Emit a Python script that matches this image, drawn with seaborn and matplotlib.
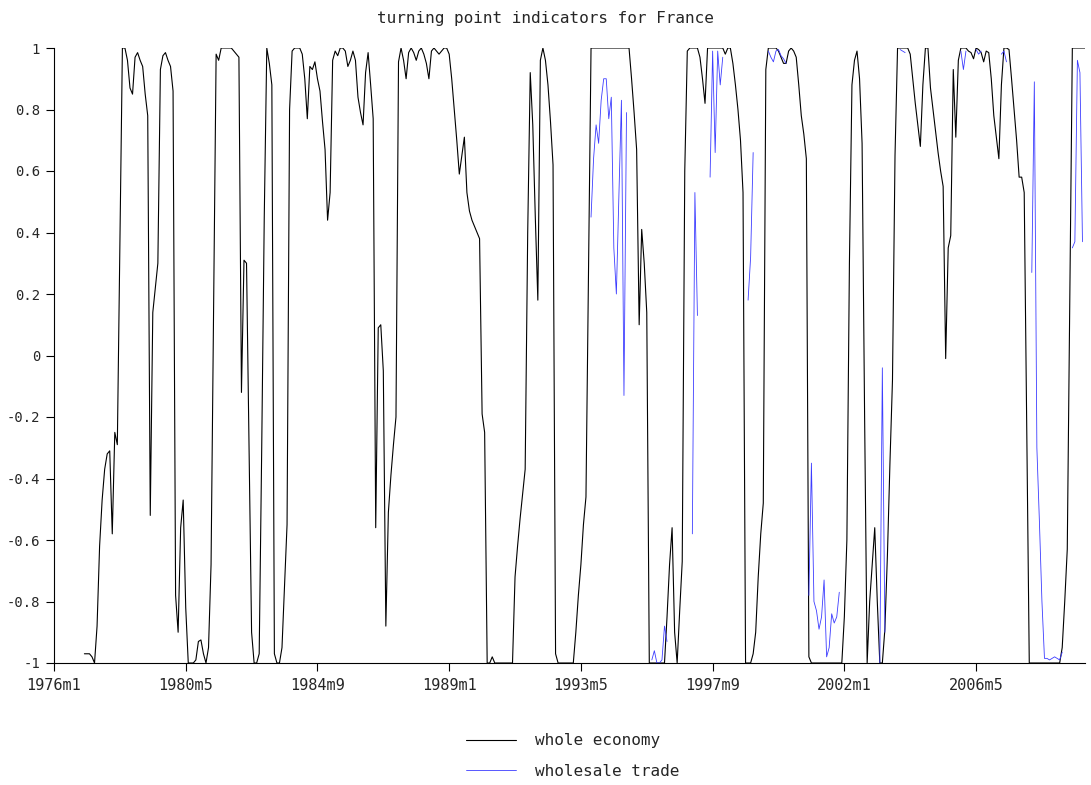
import numpy as np
import pandas as pd
import matplotlib
matplotlib.use("Agg")
import matplotlib.pyplot as plt
import seaborn as sns

# ---- chart text -------------------------------------------------------------
title = "turning point indicators for France"
series_names = ["whole economy", "wholesale trade"]
series_colors = ["#000000", "#3c3cff"]

# month index 0 = 1976m1, last month 2009m12
n_months = 408
xtick_pos = [0, 52, 104, 156, 208, 260, 312, 364]
xtick_labels = ["1976m1", "1980m5", "1984m9", "1989m1",
                "1993m5", "1997m9", "2002m1", "2006m5"]
ytick_vals = [-1, -0.8, -0.6, -0.4, -0.2, 0, 0.2, 0.4, 0.6, 0.8, 1]
ytick_labels = ["-1", "-0.8", "-0.6", "-0.4", "-0.2", "0",
                "0.2", "0.4", "0.6", "0.8", "1"]

# ---- whole economy: monthly, 1977m1 .. 2009m12 --------------------------------
whole_start = 12
whole_economy = [
    -0.97, -0.97, -0.97, -0.98, -1.0, -0.88, -0.62, -0.47, -0.37, -0.32, -0.31, -0.58,   # 1977
    -0.25, -0.29, 0.35, 1.0, 1.0, 0.96, 0.87, 0.85, 0.97, 0.985, 0.96, 0.94,            # 1978
    0.85, 0.78, -0.52, 0.14, 0.22, 0.30, 0.93, 0.975, 0.985, 0.96, 0.94, 0.86,          # 1979
    -0.78, -0.90, -0.56, -0.47, -0.82, -1.0, -1.0, -1.0, -0.99, -0.93, -0.925, -0.97,    # 1980
    -1.0, -0.95, -0.68, 0.15, 0.98, 0.96, 1.0, 1.0, 1.0, 1.0, 1.0, 0.99,                 # 1981
    0.98, 0.97, -0.12, 0.31, 0.30, -0.30, -0.90, -1.0, -1.0, -0.97, -0.30, 0.45,         # 1982
    1.0, 0.95, 0.88, -0.97, -1.0, -1.0, -0.95, -0.75, -0.55, 0.80, 0.99, 1.0,            # 1983
    1.0, 1.0, 0.98, 0.90, 0.77, 0.94, 0.93, 0.955, 0.90, 0.86, 0.76, 0.67,              # 1984
    0.44, 0.53, 0.96, 0.99, 0.975, 1.0, 1.0, 0.99, 0.94, 0.96, 0.99, 0.96,              # 1985
    0.84, 0.79, 0.75, 0.92, 0.985, 0.88, 0.77, -0.56, 0.09, 0.10, -0.05, -0.88,         # 1986
    -0.51, -0.39, -0.29, -0.20, 0.955, 1.0, 0.96, 0.90, 0.985, 1.0, 0.985, 0.96,        # 1987
    0.99, 1.0, 0.98, 0.95, 0.90, 0.99, 1.0, 0.99, 0.98, 0.99, 1.0, 1.0,                 # 1988
    0.98, 0.90, 0.80, 0.70, 0.59, 0.65, 0.71, 0.53, 0.47, 0.44, 0.42, 0.40,             # 1989
    0.38, -0.19, -0.25, -1.0, -1.0, -0.98, -1.0, -1.0, -1.0, -1.0, -1.0, -1.0,          # 1990
    -1.0, -1.0, -0.72, -0.62, -0.53, -0.45, -0.37, 0.40, 0.92, 0.75, 0.45, 0.18,        # 1991
    0.96, 1.0, 0.96, 0.88, 0.76, 0.62, -0.97, -1.0, -1.0, -1.0, -1.0, -1.0,             # 1992
    -1.0, -1.0, -0.90, -0.78, -0.68, -0.55, -0.46, 0.27, 1.0, 1.0, 1.0, 1.0,            # 1993
    1.0, 1.0, 1.0, 1.0, 1.0, 1.0, 1.0, 1.0, 1.0, 1.0, 1.0, 1.0,                         # 1994
    0.90, 0.79, 0.67, 0.10, 0.41, 0.30, 0.14, -1.0, -1.0, -1.0, -1.0, -1.0,             # 1995
    -1.0, -1.0, -0.85, -0.68, -0.56, -0.90, -1.0, -0.83, -0.67, 0.60, 0.99, 1.0,        # 1996
    1.0, 1.0, 1.0, 0.97, 0.90, 0.82, 1.0, 1.0, 1.0, 1.0, 1.0, 1.0,                      # 1997
    1.0, 0.98, 1.0, 1.0, 0.95, 0.88, 0.80, 0.70, 0.53, -1.0, -1.0, -1.0,                # 1998
    -0.97, -0.90, -0.72, -0.58, -0.48, 0.93, 1.0, 1.0, 1.0, 1.0, 0.99, 0.97,            # 1999
    0.95, 0.95, 0.99, 1.0, 0.99, 0.97, 0.88, 0.78, 0.72, 0.64, -0.98, -1.0,             # 2000
    -1.0, -1.0, -1.0, -1.0, -1.0, -1.0, -1.0, -1.0, -1.0, -1.0, -1.0, -1.0,             # 2001
    -0.85, -0.60, 0.30, 0.88, 0.96, 0.99, 0.90, 0.69, -0.20, -1.0, -0.80, -0.68,        # 2002
    -0.56, -0.80, -1.0, -1.0, -0.89, -0.65, -0.35, -0.08, 0.65, 1.0, 1.0, 1.0,          # 2003
    1.0, 1.0, 0.98, 0.90, 0.82, 0.75, 0.68, 0.88, 1.0, 1.0, 0.87, 0.80,                 # 2004
    0.73, 0.66, 0.60, 0.55, -0.01, 0.35, 0.39, 0.93, 0.71, 0.96, 1.0, 1.0,              # 2005
    1.0, 0.99, 0.985, 0.965, 1.0, 0.995, 0.985, 0.955, 0.99, 0.985, 0.90, 0.78,         # 2006
    0.71, 0.64, 0.88, 1.0, 1.0, 0.995, 0.90, 0.80, 0.70, 0.58, 0.58, 0.53,              # 2007
    -0.25, -1.0, -1.0, -1.0, -1.0, -1.0, -1.0, -1.0, -1.0, -1.0, -1.0, -1.0,            # 2008
    -1.0, -1.0, -0.95, -0.80, -0.63, 0.20, 1.0, 1.0, 1.0, 1.0, 1.0, 1.0,                # 2009
]

# ---- wholesale trade: monthly, 1993m9 .. 2009m12 (None = not available) ---------
N = None
wholesale_start = 212
wholesale_trade = [
    0.45, 0.64, 0.75, 0.69,                                                           # 1993 m9-m12
    0.83, 0.90, 0.90, 0.77, 0.84, 0.35, 0.20, 0.52, 0.83, -0.13, 0.79, N,             # 1994
    N, N, N, N, N, N, N, N, -0.99, -0.96, -1.0, -1.0,                                 # 1995
    -0.99, -0.88, -0.93, N, N, N, N, N, N, N, N, N,                                   # 1996
    -0.58, 0.53, 0.13, N, N, N, N, 0.58, 0.99, 0.66, 0.99, 0.88,                      # 1997
    0.97, N, N, N, N, N, N, N, N, N, 0.18, 0.32,                                      # 1998
    0.66, N, N, N, N, N, 0.99, 0.97, 0.955, 0.99, 0.995, 0.975,                       # 1999
    0.965, 0.95, N, N, N, N, N, N, N, N, -0.78, -0.35,                                # 2000
    -0.80, -0.83, -0.89, -0.85, -0.73, -0.98, -0.95, -0.84, -0.87, -0.85, -0.77, N,   # 2001
    N, N, N, N, N, N, N, N, N, N, N, N,                                               # 2002
    N, N, -1.0, -0.04, -0.90, N, N, N, N, N, 0.995, 0.99,                             # 2003
    0.985, N, N, N, N, N, N, N, N, N, N, N,                                           # 2004
    N, N, N, N, N, N, N, N, N, N, 0.99, 0.93,                                         # 2005
    0.99, N, N, N, 0.995, 0.98, 0.99, N, N, N, N, N,                                  # 2006
    N, N, 0.98, 0.99, 0.955, N, N, N, N, N, N, N,                                     # 2007
    N, N, 0.27, 0.89, -0.30, -0.54, -0.80, -0.985, -0.985, -0.99, -0.985, -0.98,      # 2008
    -0.985, -0.99, -0.965, N, N, N, 0.35, 0.37, 0.96, 0.92, 0.37, N,                  # 2009
]


def to_frame(name, start, values):
    """Long-format frame; a run of missing months starts a new line segment."""
    y = np.array(values, dtype=float)
    month = np.arange(start, start + len(y))
    segment = np.cumsum(np.isnan(y))
    keep = ~np.isnan(y)
    return pd.DataFrame({"month": month[keep], "value": y[keep],
                         "series": name, "segment": segment[keep]})


df = pd.concat([
    to_frame(series_names[0], whole_start, whole_economy),
    to_frame(series_names[1], wholesale_start, wholesale_trade),
], ignore_index=True)

# ---- figure -------------------------------------------------------------------
sns.set_style("white")
plt.rcParams["font.family"] = ["DejaVu Sans Mono", "DejaVu Sans"]

fig = plt.figure(figsize=(10.91, 7.85), dpi=100)
ax = fig.add_axes([54 / 1091, 1 - 663 / 785, (1085 - 54) / 1091, (663 - 48) / 785])

sns.lineplot(
    data=df, x="month", y="value",
    hue="series", hue_order=series_names,
    palette=dict(zip(series_names, series_colors)),
    size="series", sizes={series_names[0]: 0.8, series_names[1]: 0.6},
    units="segment", estimator=None, sort=True,
    ax=ax, legend=True,
)

ax.set_xlim(0, n_months - 1)
ax.set_ylim(-1, 1)
ax.set_xticks(xtick_pos)
ax.set_xticklabels(xtick_labels, fontsize=11)
ax.set_yticks(ytick_vals)
ax.set_yticklabels(ytick_labels, fontsize=10)
ax.set_xlabel("")
ax.set_ylabel("")
for side in ("top", "right"):
    ax.spines[side].set_visible(False)
for side in ("left", "bottom"):
    ax.spines[side].set_color("black")
    ax.spines[side].set_linewidth(0.8)
ax.tick_params(axis="both", direction="out", length=6, width=0.8, color="black",
               left=True, bottom=True)
ax.tick_params(axis="x", pad=5)
ax.tick_params(axis="y", pad=4)

fig.text(0.5, 1 - 18 / 785, title, ha="center", va="center", fontsize=11.5)

sns.move_legend(
    ax, loc="center left",
    bbox_to_anchor=((466 - 54) / 1031, (663 - 756) / 615),
    frameon=False, title=None, fontsize=11.5,
    handlelength=3.1, handletextpad=1.25, labelspacing=0.95,
    borderpad=0, borderaxespad=0,
)

fig.savefig("out.png", dpi=100, facecolor="white")
